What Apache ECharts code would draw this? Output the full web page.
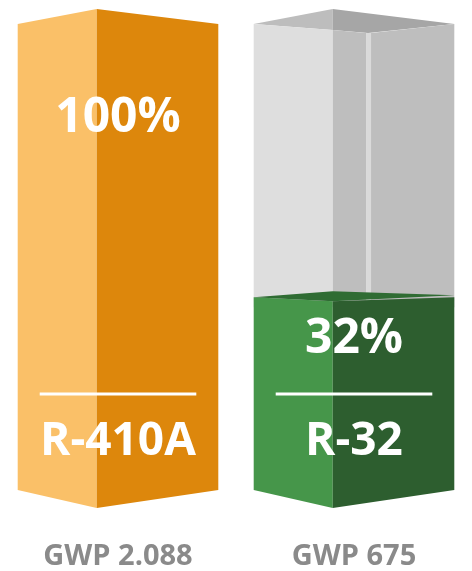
<!DOCTYPE html>
<html>
<head>
<meta charset="utf-8">
<style>html,body{margin:0;padding:0;background:#fff}#c{width:472px;height:571px}</style>
<script src="https://cdn.jsdelivr.net/npm/echarts@6/dist/echarts.min.js"></script>
</head>
<body>
<div id="c"></div>
<script>
// ---- data ----
const refrigerants = ['R-410A', 'R-32'];
const gwpLabels = ['GWP 2.088', 'GWP 675'];
const percentValues = [100, 32];
const percentLabels = ['100%', '32%'];

// ---- style ----
const FULL = 100;
const AXIS_MIN = -16;
const lightFace = ['#FAC068', '#46964A'];
const darkFace = ['#DD870C', '#2D5E2F'];
const topFace = ['#E9A23A', '#2F6C33'];
const FONT = '"Open Sans", "Noto Sans", sans-serif';

const chart = echarts.init(document.getElementById('c'), null, { renderer: 'canvas' });

function poly(points, fill) {
  return { type: 'polygon', shape: { points: points }, style: { fill: fill } };
}

function geom(params, api) {
  const idx = api.value(0);
  const band = api.size([1, 0])[0];
  const w = band * 0.85;
  const cx = api.coord([idx, 0])[0];
  const x0 = cx - w / 2, x1 = cx + w / 2, xs = x0 + w * 0.394;
  const yBot = params.coordSys.y + params.coordSys.height;
  return { idx, w, cx, x0, x1, xs, yBot };
}

function renderContainer(params, api) {
  const g = geom(params, api);
  const v = api.value(1);
  if (v >= FULL) return { type: 'group', children: [] };
  const yT = api.coord([g.idx, FULL])[1];
  const yB = api.coord([g.idx, v])[1] + 10;
  const xf = g.x0 + g.w * 0.56;
  const { x0, x1, xs } = g;
  return {
    type: 'group',
    children: [
      poly([[x0, yT], [xs, yT - 15], [xs, yT + 6]], '#BDBDBD'),
      poly([[xs, yT - 15], [x1, yT], [xf + 2, yT + 9], [xs, yT + 6]], '#A6A6A6'),
      poly([[x0, yT], [xs, yT + 6], [xs, yB], [x0, yB]], '#DEDEDE'),
      poly([[xs, yT + 6], [xf, yT + 9], [xf, yB], [xs, yB]], '#BEBEBE'),
      poly([[xf, yT + 9], [xf + 5, yT + 9], [xf + 5, yB], [xf, yB]], '#DADADA'),
      poly([[xf + 5, yT + 9], [x1, yT], [x1, yB], [xf + 5, yB]], '#BEBEBE')
    ]
  };
}

function renderFill(params, api) {
  const g = geom(params, api);
  const v = api.value(1);
  const i = g.idx;
  const yTop = api.coord([i, v])[1];
  const { x0, x1, xs, yBot } = g;
  const children = [];
  if (v >= FULL) {
    children.push(poly([[x0, yTop], [xs, yTop - 15], [xs, yBot + 18], [x0, yBot]], lightFace[i]));
    children.push(poly([[xs, yTop - 15], [x1, yTop], [x1, yBot], [xs, yBot + 18]], darkFace[i]));
  } else {
    children.push(poly([[x0, yTop], [xs, yTop + 4], [xs, yBot + 18], [x0, yBot]], lightFace[i]));
    children.push(poly([[xs, yTop + 4], [x1, yTop], [x1, yBot], [xs, yBot + 18]], darkFace[i]));
    children.push(poly([[x0, yTop], [xs, yTop - 6], [x1, yTop - 2], [xs, yTop + 4]], topFace[i]));
  }
  const lineY = yBot - 96;
  children.push({
    type: 'line',
    shape: { x1: x0 + 22, y1: lineY, x2: x1 - 22, y2: lineY },
    style: { stroke: '#FFFFFF', lineWidth: 3 }
  });
  const pctY = yTop + Math.min(94, (lineY - yTop) * 0.44);
  children.push({
    type: 'text',
    style: {
      x: g.cx, y: pctY, text: percentLabels[i], fill: '#FFFFFF',
      font: 'bold 48px ' + FONT, textAlign: 'center', textVerticalAlign: 'middle'
    }
  });
  children.push({
    type: 'text',
    style: {
      x: g.cx, y: yBot - 48, text: refrigerants[i], fill: '#FFFFFF',
      font: 'bold 46px ' + FONT, textAlign: 'center', textVerticalAlign: 'middle'
    }
  });
  return { type: 'group', children: children };
}

const seriesData = percentValues.map((v, i) => [i, v]);

chart.setOption({
  animation: false,
  backgroundColor: '#FFFFFF',
  grid: { left: -2, right: -4, top: 24, bottom: 81 },
  xAxis: {
    type: 'category',
    data: gwpLabels,
    axisLine: { show: false },
    axisTick: { show: false },
    splitLine: { show: false },
    axisLabel: {
      color: '#8A8A8A', fontSize: 29, fontWeight: 'bold', fontFamily: FONT,
      margin: 52, interval: 0
    }
  },
  yAxis: {
    type: 'value', min: AXIS_MIN, max: FULL, show: false,
    splitLine: { show: false }
  },
  series: [
    { type: 'custom', renderItem: renderContainer, data: seriesData, clip: false, z: 1 },
    { type: 'custom', renderItem: renderFill, data: seriesData, clip: false, z: 2 }
  ]
});
</script>
</body>
</html>
